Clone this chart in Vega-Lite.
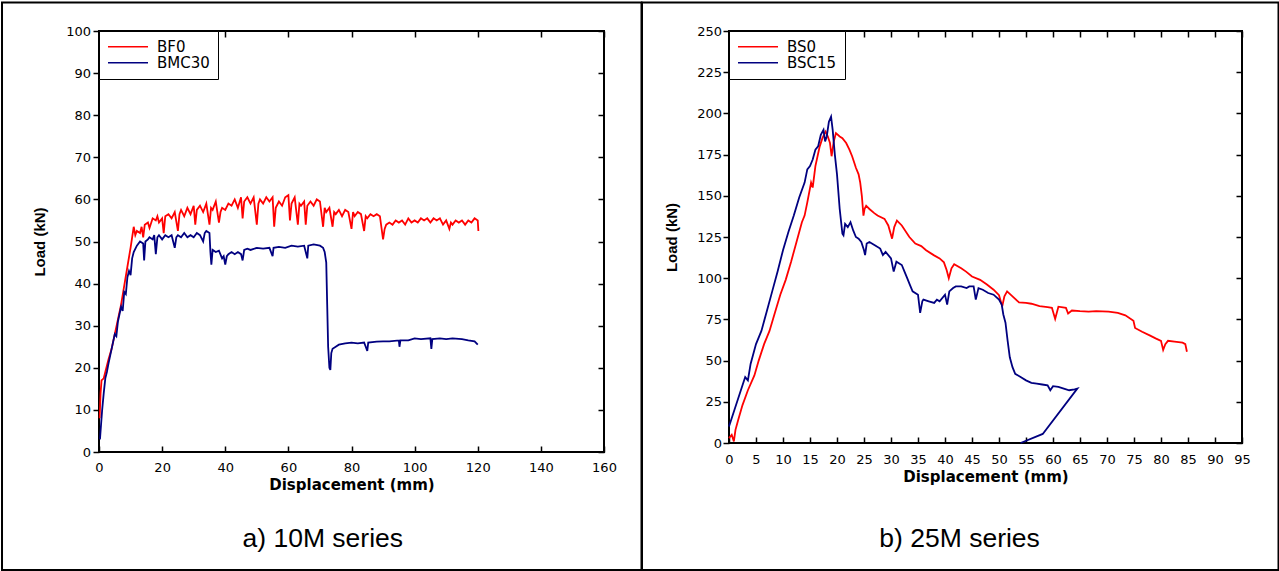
{
"$schema": "https://vega.github.io/schema/vega-lite/v6.json",
"background": "white",
"padding": 0,
"spacing": -4,
"align": "none",
"resolve": {"scale": {"x": "independent", "y": "independent", "color": "independent"}, "legend": {"color": "independent"}},
"config": {
 "font": "Liberation Sans",
 "view": {"stroke": "black", "strokeWidth": 2},
 "axis": {"labelFont": "DejaVu Sans", "labelFontSize": 13, "labelColor": "black", "titleFont": "DejaVu Sans", "titleFontSize": 15, "titleFontWeight": "bold", "titleColor": "black", "tickColor": "black", "tickWidth": 1.5, "domain": false, "grid": false, "labelFlush": false, "labelOverlap": false},
 "axisLeft": {"titleFont": "Liberation Sans", "titleFontSize": 15},
 "legend": {"labelFont": "DejaVu Sans", "labelFontSize": 15, "labelColor": "black", "strokeColor": "black", "fillColor": "white", "padding": 8, "symbolType": "stroke", "symbolSize": 1600, "symbolStrokeWidth": 1.5, "labelOffset": 8, "clipHeight": 15.5, "rowPadding": 0}
},
"datasets": {
 "a": [
  {"s":"BF0","x":0.2,"y":8},{"s":"BF0","x":0.5,"y":14},{"s":"BF0","x":0.8,"y":17},{"s":"BF0","x":1.5,"y":17.5},{"s":"BF0","x":2,"y":19},{"s":"BF0","x":3,"y":22},{"s":"BF0","x":4,"y":24.5},{"s":"BF0","x":5,"y":28},{"s":"BF0","x":6,"y":31.5},{"s":"BF0","x":7,"y":35},{"s":"BF0","x":8,"y":39.5},{"s":"BF0","x":9,"y":44},{"s":"BF0","x":10,"y":48.5},{"s":"BF0","x":10.5,"y":51},{"s":"BF0","x":11,"y":53.5},{"s":"BF0","x":11.5,"y":51.5},{"s":"BF0","x":12,"y":52.5},{"s":"BF0","x":13,"y":52},{"s":"BF0","x":13.5,"y":53.5},{"s":"BF0","x":14,"y":51},{"s":"BF0","x":14.5,"y":54},{"s":"BF0","x":15.5,"y":54.5},{"s":"BF0","x":16,"y":53.2},{"s":"BF0","x":17,"y":55.5},{"s":"BF0","x":18,"y":55},{"s":"BF0","x":18.5,"y":56},{"s":"BF0","x":19,"y":54.5},{"s":"BF0","x":20,"y":55.5},{"s":"BF0","x":20.5,"y":52},{"s":"BF0","x":21,"y":56},{"s":"BF0","x":22,"y":56.5},{"s":"BF0","x":23,"y":55.5},{"s":"BF0","x":24,"y":57},{"s":"BF0","x":25,"y":52.5},{"s":"BF0","x":25.5,"y":56.5},{"s":"BF0","x":26,"y":57.5},{"s":"BF0","x":27,"y":56},{"s":"BF0","x":28,"y":58},{"s":"BF0","x":29,"y":56.5},{"s":"BF0","x":30,"y":58.5},{"s":"BF0","x":30.5,"y":54},{"s":"BF0","x":31,"y":57.5},{"s":"BF0","x":32,"y":58.5},{"s":"BF0","x":33,"y":57},{"s":"BF0","x":34,"y":59},{"s":"BF0","x":35,"y":54},{"s":"BF0","x":35.5,"y":58},{"s":"BF0","x":36,"y":57.5},{"s":"BF0","x":37,"y":59.5},{"s":"BF0","x":38,"y":54.5},{"s":"BF0","x":38.5,"y":57},{"s":"BF0","x":39,"y":58},{"s":"BF0","x":40,"y":57.5},{"s":"BF0","x":41,"y":59},{"s":"BF0","x":42,"y":58.5},{"s":"BF0","x":43,"y":60},{"s":"BF0","x":44,"y":58},{"s":"BF0","x":45,"y":60.5},{"s":"BF0","x":45.5,"y":55.5},{"s":"BF0","x":46,"y":59.5},{"s":"BF0","x":47,"y":60.5},{"s":"BF0","x":48,"y":59},{"s":"BF0","x":49,"y":60.5},{"s":"BF0","x":50,"y":54},{"s":"BF0","x":50.5,"y":59},{"s":"BF0","x":51,"y":60},{"s":"BF0","x":52,"y":59},{"s":"BF0","x":53,"y":60.5},{"s":"BF0","x":54,"y":59.5},{"s":"BF0","x":55,"y":60.5},{"s":"BF0","x":55.5,"y":53.5},{"s":"BF0","x":56,"y":58},{"s":"BF0","x":57,"y":59.5},{"s":"BF0","x":58,"y":58.5},{"s":"BF0","x":59,"y":60.5},{"s":"BF0","x":60,"y":61},{"s":"BF0","x":60.5,"y":55},{"s":"BF0","x":61,"y":59},{"s":"BF0","x":62,"y":60.5},{"s":"BF0","x":63,"y":54},{"s":"BF0","x":63.5,"y":59},{"s":"BF0","x":64,"y":58.5},{"s":"BF0","x":65,"y":59.5},{"s":"BF0","x":65.5,"y":54},{"s":"BF0","x":66,"y":58.5},{"s":"BF0","x":67,"y":59.5},{"s":"BF0","x":68,"y":58.5},{"s":"BF0","x":69,"y":60},{"s":"BF0","x":70,"y":59.5},{"s":"BF0","x":71,"y":53.5},{"s":"BF0","x":71.5,"y":58},{"s":"BF0","x":72,"y":57},{"s":"BF0","x":73,"y":58},{"s":"BF0","x":74,"y":53.5},{"s":"BF0","x":74.5,"y":57},{"s":"BF0","x":75,"y":56.5},{"s":"BF0","x":76,"y":57.5},{"s":"BF0","x":77,"y":56},{"s":"BF0","x":78,"y":57.5},{"s":"BF0","x":79,"y":57},{"s":"BF0","x":80,"y":53},{"s":"BF0","x":80.5,"y":57},{"s":"BF0","x":81,"y":56},{"s":"BF0","x":82,"y":57},{"s":"BF0","x":83,"y":56.5},{"s":"BF0","x":84,"y":52.5},{"s":"BF0","x":84.5,"y":56},{"s":"BF0","x":85,"y":55.5},{"s":"BF0","x":86,"y":56.5},{"s":"BF0","x":87,"y":56},{"s":"BF0","x":88,"y":56.5},{"s":"BF0","x":89,"y":56},{"s":"BF0","x":90,"y":50.5},{"s":"BF0","x":90.5,"y":53},{"s":"BF0","x":91,"y":54},{"s":"BF0","x":92,"y":54.5},{"s":"BF0","x":93,"y":54},{"s":"BF0","x":94,"y":55},{"s":"BF0","x":95,"y":54.5},{"s":"BF0","x":96,"y":55},{"s":"BF0","x":97,"y":54},{"s":"BF0","x":98,"y":55.5},{"s":"BF0","x":99,"y":54.5},{"s":"BF0","x":100,"y":55},{"s":"BF0","x":101,"y":54.5},{"s":"BF0","x":102,"y":55.5},{"s":"BF0","x":103,"y":55},{"s":"BF0","x":104,"y":55.5},{"s":"BF0","x":105,"y":54.5},{"s":"BF0","x":106,"y":55.5},{"s":"BF0","x":107,"y":55},{"s":"BF0","x":108,"y":55.5},{"s":"BF0","x":109,"y":54},{"s":"BF0","x":110,"y":55},{"s":"BF0","x":111,"y":53},{"s":"BF0","x":111.5,"y":54.5},{"s":"BF0","x":112,"y":54},{"s":"BF0","x":113,"y":55},{"s":"BF0","x":114,"y":54.5},{"s":"BF0","x":115,"y":55},{"s":"BF0","x":116,"y":54},{"s":"BF0","x":117,"y":55},{"s":"BF0","x":118,"y":54.5},{"s":"BF0","x":119,"y":55.5},{"s":"BF0","x":120,"y":55},{"s":"BF0","x":120.2,"y":52.5},
  {"s":"BMC30","x":0.3,"y":3},{"s":"BMC30","x":0.7,"y":7},{"s":"BMC30","x":1,"y":10},{"s":"BMC30","x":1.5,"y":14},{"s":"BMC30","x":2,"y":17.5},{"s":"BMC30","x":2.5,"y":19},{"s":"BMC30","x":3,"y":21},{"s":"BMC30","x":4,"y":24.5},{"s":"BMC30","x":5,"y":28},{"s":"BMC30","x":5.5,"y":27.5},{"s":"BMC30","x":6,"y":31},{"s":"BMC30","x":7,"y":34.5},{"s":"BMC30","x":7.5,"y":33.5},{"s":"BMC30","x":8,"y":38},{"s":"BMC30","x":8.5,"y":37.5},{"s":"BMC30","x":9,"y":41.5},{"s":"BMC30","x":9.5,"y":43},{"s":"BMC30","x":10,"y":42},{"s":"BMC30","x":10.5,"y":46},{"s":"BMC30","x":11,"y":47.5},{"s":"BMC30","x":12,"y":49},{"s":"BMC30","x":13,"y":50},{"s":"BMC30","x":14,"y":49.5},{"s":"BMC30","x":14.3,"y":45.5},{"s":"BMC30","x":14.7,"y":50},{"s":"BMC30","x":15.5,"y":50.5},{"s":"BMC30","x":16,"y":51},{"s":"BMC30","x":17,"y":50.5},{"s":"BMC30","x":17.5,"y":51.5},{"s":"BMC30","x":18,"y":47},{"s":"BMC30","x":18.5,"y":51},{"s":"BMC30","x":19,"y":51.5},{"s":"BMC30","x":20,"y":50.5},{"s":"BMC30","x":21,"y":51.5},{"s":"BMC30","x":22,"y":51},{"s":"BMC30","x":23,"y":51.5},{"s":"BMC30","x":24,"y":48.5},{"s":"BMC30","x":24.5,"y":51},{"s":"BMC30","x":25,"y":51.5},{"s":"BMC30","x":26,"y":51},{"s":"BMC30","x":27,"y":52},{"s":"BMC30","x":28,"y":51},{"s":"BMC30","x":29,"y":51.5},{"s":"BMC30","x":30,"y":51},{"s":"BMC30","x":31,"y":52},{"s":"BMC30","x":32,"y":51.5},{"s":"BMC30","x":33,"y":50},{"s":"BMC30","x":33.5,"y":52},{"s":"BMC30","x":34,"y":52.5},{"s":"BMC30","x":35,"y":52},{"s":"BMC30","x":35.3,"y":47.5},{"s":"BMC30","x":35.6,"y":44.5},{"s":"BMC30","x":36,"y":48},{"s":"BMC30","x":37,"y":47.5},{"s":"BMC30","x":38,"y":47.8},{"s":"BMC30","x":39,"y":46},{"s":"BMC30","x":39.5,"y":46.5},{"s":"BMC30","x":40,"y":44.5},{"s":"BMC30","x":40.5,"y":46.5},{"s":"BMC30","x":41,"y":47},{"s":"BMC30","x":42,"y":47.5},{"s":"BMC30","x":43,"y":47},{"s":"BMC30","x":44,"y":47.5},{"s":"BMC30","x":45,"y":47},{"s":"BMC30","x":45.5,"y":45.5},{"s":"BMC30","x":46,"y":48},{"s":"BMC30","x":47,"y":48.3},{"s":"BMC30","x":48,"y":48},{"s":"BMC30","x":50,"y":48.5},{"s":"BMC30","x":52,"y":48.3},{"s":"BMC30","x":54,"y":48.5},{"s":"BMC30","x":55,"y":46.5},{"s":"BMC30","x":55.3,"y":48.5},{"s":"BMC30","x":57,"y":48.7},{"s":"BMC30","x":59,"y":48.5},{"s":"BMC30","x":61,"y":49},{"s":"BMC30","x":63,"y":48.8},{"s":"BMC30","x":65,"y":49},{"s":"BMC30","x":66,"y":46},{"s":"BMC30","x":66.3,"y":49},{"s":"BMC30","x":68,"y":49.3},{"s":"BMC30","x":70,"y":49},{"s":"BMC30","x":71,"y":48.5},{"s":"BMC30","x":71.5,"y":47.5},{"s":"BMC30","x":72,"y":45},{"s":"BMC30","x":72.3,"y":35},{"s":"BMC30","x":72.6,"y":25},{"s":"BMC30","x":73,"y":20},{"s":"BMC30","x":73.3,"y":19.5},{"s":"BMC30","x":73.6,"y":23.5},{"s":"BMC30","x":74,"y":24.5},{"s":"BMC30","x":75,"y":25},{"s":"BMC30","x":76,"y":25.5},{"s":"BMC30","x":78,"y":25.8},{"s":"BMC30","x":80,"y":26},{"s":"BMC30","x":82,"y":25.8},{"s":"BMC30","x":84,"y":26},{"s":"BMC30","x":85,"y":24},{"s":"BMC30","x":85.3,"y":26},{"s":"BMC30","x":88,"y":26.2},{"s":"BMC30","x":90,"y":26.3},{"s":"BMC30","x":92,"y":26.3},{"s":"BMC30","x":95,"y":26.5},{"s":"BMC30","x":95.2,"y":25},{"s":"BMC30","x":95.5,"y":26.5},{"s":"BMC30","x":98,"y":26.5},{"s":"BMC30","x":100,"y":27},{"s":"BMC30","x":102,"y":26.8},{"s":"BMC30","x":105,"y":27},{"s":"BMC30","x":105.3,"y":24.5},{"s":"BMC30","x":105.6,"y":26.8},{"s":"BMC30","x":108,"y":27},{"s":"BMC30","x":110,"y":26.8},{"s":"BMC30","x":112,"y":27},{"s":"BMC30","x":115,"y":26.8},{"s":"BMC30","x":117,"y":26.5},{"s":"BMC30","x":119,"y":26.3},{"s":"BMC30","x":120,"y":25.5}
 ],
 "b": [
  {"s":"BS0","x":0,"y":3},{"s":"BS0","x":0.5,"y":5},{"s":"BS0","x":0.9,"y":1},{"s":"BS0","x":1.2,"y":8},{"s":"BS0","x":1.7,"y":14},{"s":"BS0","x":2.5,"y":23},{"s":"BS0","x":3.5,"y":32},{"s":"BS0","x":4.7,"y":41},{"s":"BS0","x":5.5,"y":50},{"s":"BS0","x":6.5,"y":60},{"s":"BS0","x":7.5,"y":68},{"s":"BS0","x":8.5,"y":79},{"s":"BS0","x":9.5,"y":90},{"s":"BS0","x":10.5,"y":99},{"s":"BS0","x":11.5,"y":110},{"s":"BS0","x":12.5,"y":122},{"s":"BS0","x":13.5,"y":134},{"s":"BS0","x":14,"y":138},{"s":"BS0","x":14.5,"y":146},{"s":"BS0","x":15.2,"y":158},{"s":"BS0","x":15.5,"y":155},{"s":"BS0","x":16,"y":168},{"s":"BS0","x":16.8,"y":180},{"s":"BS0","x":17.3,"y":185},{"s":"BS0","x":17.9,"y":189},{"s":"BS0","x":18.3,"y":186},{"s":"BS0","x":18.7,"y":182},{"s":"BS0","x":19,"y":174},{"s":"BS0","x":19.4,"y":183},{"s":"BS0","x":19.8,"y":188},{"s":"BS0","x":20.5,"y":186},{"s":"BS0","x":21,"y":185},{"s":"BS0","x":21.7,"y":182},{"s":"BS0","x":22.3,"y":178},{"s":"BS0","x":22.8,"y":174},{"s":"BS0","x":23.2,"y":170},{"s":"BS0","x":23.5,"y":167},{"s":"BS0","x":24,"y":163},{"s":"BS0","x":24.3,"y":158},{"s":"BS0","x":24.6,"y":150},{"s":"BS0","x":24.9,"y":138},{"s":"BS0","x":25.1,"y":142},{"s":"BS0","x":25.4,"y":144},{"s":"BS0","x":26,"y":142},{"s":"BS0","x":26.9,"y":139.5},{"s":"BS0","x":27.5,"y":138},{"s":"BS0","x":28.8,"y":136},{"s":"BS0","x":29.5,"y":132},{"s":"BS0","x":30.2,"y":124},{"s":"BS0","x":30.6,"y":131},{"s":"BS0","x":31.1,"y":135},{"s":"BS0","x":32,"y":132},{"s":"BS0","x":33.4,"y":125},{"s":"BS0","x":34.5,"y":121},{"s":"BS0","x":35.6,"y":119.5},{"s":"BS0","x":36.5,"y":117},{"s":"BS0","x":37.9,"y":114},{"s":"BS0","x":39,"y":112},{"s":"BS0","x":39.8,"y":109.6},{"s":"BS0","x":40.3,"y":105},{"s":"BS0","x":40.7,"y":100},{"s":"BS0","x":41.2,"y":106},{"s":"BS0","x":41.7,"y":108.5},{"s":"BS0","x":43,"y":106},{"s":"BS0","x":43.9,"y":104},{"s":"BS0","x":45,"y":101},{"s":"BS0","x":46.5,"y":99},{"s":"BS0","x":47.7,"y":96.3},{"s":"BS0","x":49,"y":93},{"s":"BS0","x":50,"y":89.7},{"s":"BS0","x":50.6,"y":83},{"s":"BS0","x":51,"y":89},{"s":"BS0","x":51.5,"y":92},{"s":"BS0","x":52.5,"y":89},{"s":"BS0","x":53.7,"y":85.3},{"s":"BS0","x":55,"y":85},{"s":"BS0","x":56,"y":84.5},{"s":"BS0","x":57.5,"y":83},{"s":"BS0","x":59,"y":82.5},{"s":"BS0","x":59.8,"y":82},{"s":"BS0","x":60.4,"y":75.3},{"s":"BS0","x":61,"y":82.7},{"s":"BS0","x":62.4,"y":82},{"s":"BS0","x":62.8,"y":78.6},{"s":"BS0","x":63.5,"y":80.4},{"s":"BS0","x":65,"y":80},{"s":"BS0","x":66.6,"y":79.7},{"s":"BS0","x":68,"y":80},{"s":"BS0","x":70.3,"y":79.7},{"s":"BS0","x":72,"y":79},{"s":"BS0","x":73.4,"y":77.5},{"s":"BS0","x":74.9,"y":74.2},{"s":"BS0","x":75.2,"y":69.8},{"s":"BS0","x":76.5,"y":67.5},{"s":"BS0","x":77.9,"y":65.3},{"s":"BS0","x":79,"y":63.5},{"s":"BS0","x":80,"y":62},{"s":"BS0","x":80.4,"y":56.5},{"s":"BS0","x":80.8,"y":60},{"s":"BS0","x":81.3,"y":62},{"s":"BS0","x":82.5,"y":61.5},{"s":"BS0","x":84,"y":60.9},{"s":"BS0","x":84.5,"y":60},{"s":"BS0","x":84.8,"y":55.4},
  {"s":"BSC15","x":0,"y":10},{"s":"BSC15","x":1,"y":20},{"s":"BSC15","x":2,"y":30},{"s":"BSC15","x":3,"y":40},{"s":"BSC15","x":3.5,"y":38},{"s":"BSC15","x":4,"y":48},{"s":"BSC15","x":5,"y":60},{"s":"BSC15","x":6,"y":68},{"s":"BSC15","x":7,"y":80},{"s":"BSC15","x":8,"y":92},{"s":"BSC15","x":9,"y":104},{"s":"BSC15","x":10,"y":117},{"s":"BSC15","x":11,"y":128},{"s":"BSC15","x":12,"y":138},{"s":"BSC15","x":13,"y":149},{"s":"BSC15","x":14,"y":158},{"s":"BSC15","x":14.5,"y":166},{"s":"BSC15","x":15,"y":168},{"s":"BSC15","x":15.5,"y":172},{"s":"BSC15","x":16,"y":178},{"s":"BSC15","x":16.5,"y":180},{"s":"BSC15","x":17,"y":187},{"s":"BSC15","x":17.5,"y":190},{"s":"BSC15","x":17.8,"y":183},{"s":"BSC15","x":18.1,"y":186},{"s":"BSC15","x":18.5,"y":195},{"s":"BSC15","x":18.9,"y":198},{"s":"BSC15","x":19.2,"y":190},{"s":"BSC15","x":19.6,"y":175},{"s":"BSC15","x":20,"y":163},{"s":"BSC15","x":20.5,"y":142},{"s":"BSC15","x":21,"y":127},{"s":"BSC15","x":21.2,"y":126},{"s":"BSC15","x":21.5,"y":133},{"s":"BSC15","x":22,"y":131},{"s":"BSC15","x":22.5,"y":134},{"s":"BSC15","x":23,"y":129},{"s":"BSC15","x":23.5,"y":125},{"s":"BSC15","x":24,"y":124},{"s":"BSC15","x":24.5,"y":122},{"s":"BSC15","x":25,"y":117},{"s":"BSC15","x":25.2,"y":114},{"s":"BSC15","x":25.5,"y":121},{"s":"BSC15","x":26,"y":122},{"s":"BSC15","x":27,"y":120},{"s":"BSC15","x":28,"y":118},{"s":"BSC15","x":28.5,"y":114},{"s":"BSC15","x":29,"y":116},{"s":"BSC15","x":30,"y":112},{"s":"BSC15","x":30.5,"y":104},{"s":"BSC15","x":31,"y":110},{"s":"BSC15","x":32,"y":108},{"s":"BSC15","x":32.5,"y":104},{"s":"BSC15","x":33,"y":100},{"s":"BSC15","x":33.5,"y":96},{"s":"BSC15","x":34,"y":92},{"s":"BSC15","x":35,"y":90},{"s":"BSC15","x":35.4,"y":79},{"s":"BSC15","x":35.8,"y":86},{"s":"BSC15","x":36,"y":87},{"s":"BSC15","x":37,"y":86},{"s":"BSC15","x":38,"y":85},{"s":"BSC15","x":38.5,"y":87},{"s":"BSC15","x":39,"y":86},{"s":"BSC15","x":40,"y":90},{"s":"BSC15","x":40.4,"y":84},{"s":"BSC15","x":40.8,"y":92},{"s":"BSC15","x":41.5,"y":94},{"s":"BSC15","x":42,"y":95},{"s":"BSC15","x":43,"y":95},{"s":"BSC15","x":44,"y":94},{"s":"BSC15","x":44.5,"y":95},{"s":"BSC15","x":45.3,"y":95},{"s":"BSC15","x":45.7,"y":87},{"s":"BSC15","x":46.2,"y":94},{"s":"BSC15","x":47,"y":93},{"s":"BSC15","x":48,"y":91},{"s":"BSC15","x":49,"y":90},{"s":"BSC15","x":50,"y":87},{"s":"BSC15","x":50.5,"y":84},{"s":"BSC15","x":50.8,"y":78},{"s":"BSC15","x":51.2,"y":73},{"s":"BSC15","x":51.6,"y":62},{"s":"BSC15","x":52,"y":52},{"s":"BSC15","x":52.5,"y":46},{"s":"BSC15","x":53,"y":42},{"s":"BSC15","x":54,"y":40},{"s":"BSC15","x":55,"y":38},{"s":"BSC15","x":56,"y":36.5},{"s":"BSC15","x":57,"y":36},{"s":"BSC15","x":58,"y":35.5},{"s":"BSC15","x":59,"y":35},{"s":"BSC15","x":59.5,"y":32},{"s":"BSC15","x":60,"y":34.5},{"s":"BSC15","x":61,"y":34},{"s":"BSC15","x":62,"y":33},{"s":"BSC15","x":63,"y":32},{"s":"BSC15","x":64,"y":32.5},{"s":"BSC15","x":64.5,"y":33},{"s":"BSC15","x":58.1,"y":5.5},{"s":"BSC15","x":54,"y":0}
 ]
},
"hconcat": [
 {
  "width": 505, "height": 421,
  "resolve": {"axis": {"x": "independent", "y": "independent"}},
  "layer": [
   {
    "data": {"values": [{}]},
    "mark": {"type": "rect", "fill": "transparent", "stroke": "black", "strokeWidth": 2},
    "encoding": {
     "x": {"datum": -30.73, "type": "quantitative", "scale": {"domain": [0, 160], "nice": false, "zero": false}, "axis": {"orient": "top", "values": [0,20,40,60,80,100,120,140,160], "labels": false, "tickSize": -6, "title": null}},
     "x2": {"datum": 171.88},
     "y": {"datum": -28.03, "type": "quantitative", "scale": {"domain": [0, 100], "nice": false, "zero": false}, "axis": {"orient": "right", "values": [0,10,20,30,40,50,60,70,80,90,100], "labels": false, "tickSize": -6, "title": null}},
     "y2": {"datum": 106.77}
    }
   },
   {
    "data": {"values": [{}]},
    "mark": {"type": "text", "fontSize": 26.5, "font": "Liberation Sans", "align": "center", "baseline": "alphabetic", "color": "black"},
    "encoding": {
     "x": {"datum": 70.9, "type": "quantitative", "scale": {"domain": [0, 160], "nice": false, "zero": false}, "axis": null},
     "y": {"datum": -22.49, "type": "quantitative", "scale": {"domain": [0, 100], "nice": false, "zero": false}, "axis": null},
     "text": {"value": "a) 10M series"}
    }
   },
   {
    "data": {"name": "a"},
    "mark": {"type": "line", "strokeWidth": 1.8},
    "encoding": {
     "x": {"field": "x", "type": "quantitative", "scale": {"domain": [0, 160], "nice": false, "zero": false}, "axis": {"orient": "bottom", "values": [0,20,40,60,80,100,120,140,160], "tickSize": -6, "labelPadding": 15.5, "titlePadding": 2.5, "title": "Displacement (mm)"}},
     "y": {"field": "y", "type": "quantitative", "scale": {"domain": [0, 100], "nice": false, "zero": false}, "axis": {"orient": "left", "values": [0,10,20,30,40,50,60,70,80,90,100], "tickSize": 6, "labelPadding": 2.5, "titlePadding": 18.5, "title": "Load (kN)"}},
     "color": {"field": "s", "type": "nominal", "scale": {"domain": ["BF0", "BMC30"], "range": ["#ff0000", "#000080"]}, "legend": {"orient": "none", "legendX": 0, "legendY": 0, "title": null}},
     "order": {"value": null}
    }
   }
  ]
 },
 {
  "width": 513, "height": 412,
  "resolve": {"axis": {"x": "independent", "y": "independent"}},
  "layer": [
   {
    "data": {"values": [{}]},
    "mark": {"type": "rect", "fill": "transparent", "stroke": "black", "strokeWidth": 2},
    "encoding": {
     "x": {"datum": -16.11, "type": "quantitative", "scale": {"domain": [0, 95], "nice": false, "zero": false}, "axis": {"orient": "top", "values": [0,5,10,15,20,25,30,35,40,45,50,55,60,65,70,75,80,85,90,95], "labels": false, "tickSize": -6, "title": null}},
     "x2": {"datum": 101.76},
     "y": {"datum": -77.06, "type": "quantitative", "scale": {"domain": [0, 250], "nice": false, "zero": false}, "axis": {"orient": "right", "values": [0,25,50,75,100,125,150,175,200,225,250], "labels": false, "tickSize": -6, "title": null}},
     "y2": {"datum": 267.29}
    }
   },
   {
    "data": {"values": [{}]},
    "mark": {"type": "text", "fontSize": 26.5, "font": "Liberation Sans", "align": "center", "baseline": "alphabetic", "color": "black"},
    "encoding": {
     "x": {"datum": 42.7, "type": "quantitative", "scale": {"domain": [0, 95], "nice": false, "zero": false}, "axis": null},
     "y": {"datum": -62.92, "type": "quantitative", "scale": {"domain": [0, 250], "nice": false, "zero": false}, "axis": null},
     "text": {"value": "b) 25M series"}
    }
   },
   {
    "data": {"name": "b"},
    "mark": {"type": "line", "strokeWidth": 1.8},
    "encoding": {
     "x": {"field": "x", "type": "quantitative", "scale": {"domain": [0, 95], "nice": false, "zero": false}, "axis": {"orient": "bottom", "values": [0,5,10,15,20,25,30,35,40,45,50,55,60,65,70,75,80,85,90,95], "tickSize": -6, "labelPadding": 16.5, "titlePadding": 2.5, "title": "Displacement (mm)"}},
     "y": {"field": "y", "type": "quantitative", "scale": {"domain": [0, 250], "nice": false, "zero": false}, "axis": {"orient": "left", "values": [0,25,50,75,100,125,150,175,200,225,250], "tickSize": 6, "labelPadding": 1.5, "titlePadding": 17, "title": "Load (kN)"}},
     "color": {"field": "s", "type": "nominal", "scale": {"domain": ["BS0", "BSC15"], "range": ["#ff0000", "#000080"]}, "legend": {"orient": "none", "legendX": 0, "legendY": 0, "title": null}},
     "order": {"value": null}
    }
   }
  ]
 }
]
}
